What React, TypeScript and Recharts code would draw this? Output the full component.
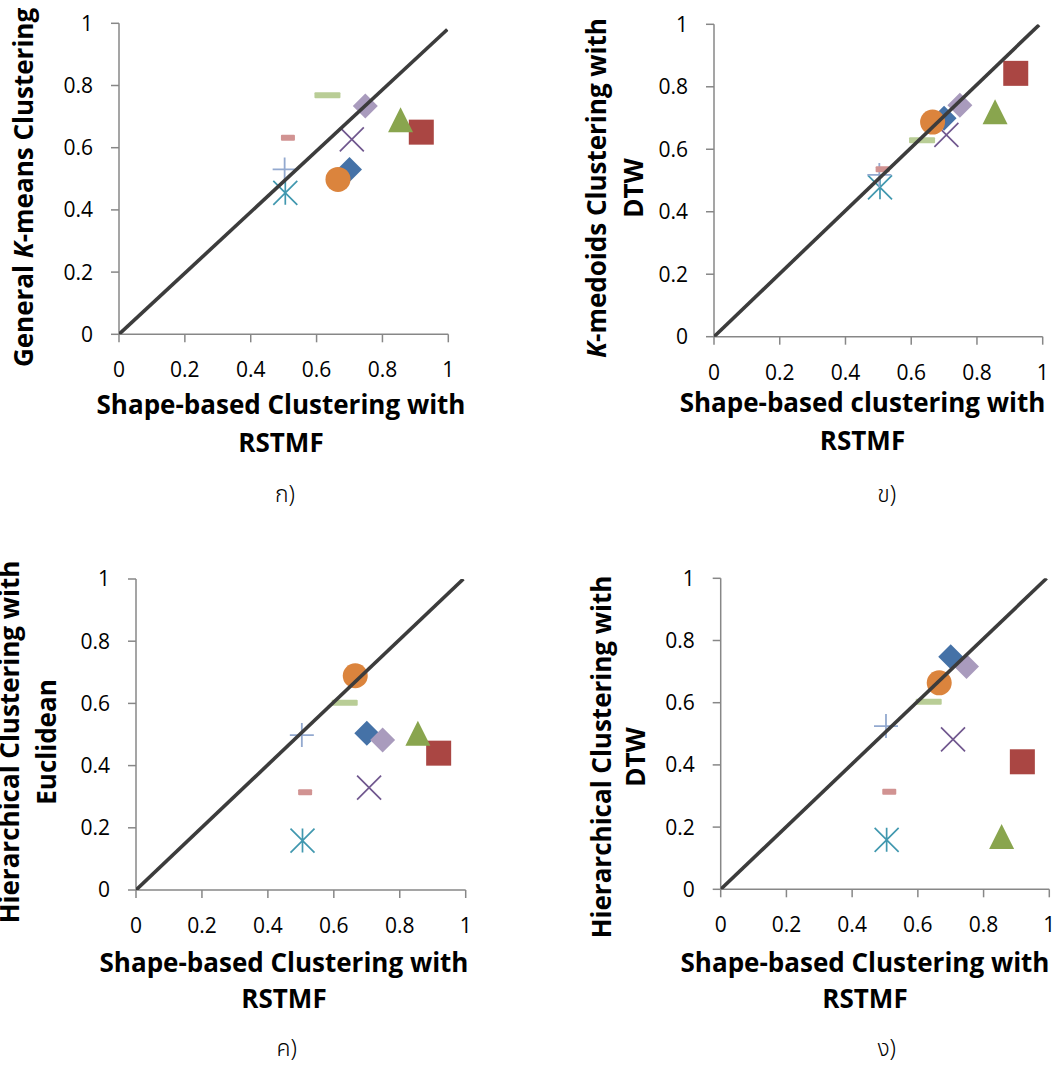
import React from "react"
import { ScatterChart, Scatter, XAxis, YAxis, Label } from "recharts"

// x values: Shape-based Clustering with RSTMF (shared by all four panels)
const shapeRstmf = [0.7, 0.918, 0.855, 0.707, 0.505, 0.665, 0.503, 0.513, 0.633, 0.748]

// y values, one list per compared method
const kMeans = [0.53, 0.65, 0.69, 0.627, 0.455, 0.498, 0.53, 0.632, 0.769, 0.734]
const kMedoidsDtw = [0.699, 0.843, 0.72, 0.646, 0.478, 0.687, 0.518, 0.536, 0.629, 0.741]
const hierEuclidean = [0.504, 0.44, 0.504, 0.329, 0.159, 0.689, 0.498, 0.314, 0.602, 0.482]
const hierDtw = [0.748, 0.41, 0.17, 0.482, 0.159, 0.664, 0.525, 0.314, 0.603, 0.716]

// far end of the diagonal reference line in each panel (starts at 0,0)
const diagEndX = [0.997, 0.989, 0.993, 0.992]
const diagEndY = [0.98, 0.998, 1, 1]

const axisTicks = [0, 0.2, 0.4, 0.6, 0.8, 1]

// one marker / colour per series (Excel 2007 look)
const MARKERS = ["diamond", "square", "triangle", "x", "star", "circle", "plus", "dash", "longDash", "diamond"]
const COLORS = ["#4572A7", "#AA4643", "#89A54E", "#71588F", "#4198AF", "#DB843D", "#93A9CF", "#D19392", "#B9CD96", "#A99BBD"]

const FONT = "'Open Sans', sans-serif"
const THAI_FONT = "'Noto Sans Thai', 'Noto Sans', 'DejaVu Sans', sans-serif"

// page coordinates of every panel (box = chart svg, plot = axis rectangle)
const PANELS = [
  {
    ys: kMeans,
    yTitle: ["General *K*-means Clustering"],
    xTitle: ["Shape-based Clustering with", "RSTMF"],
    caption: "ก)",
    box: { left: 0, top: 0, width: 531, height: 530 },
    plot: { l: 119, r: 448.3, t: 23.3, b: 334.3 },
    xTitlePos: { cx: 281, base: [414, 451.7] },
    captionPos: { cx: 285, base: 502 },
    yTitlePos: { cy: 187.5, base: [33] },
  },
  {
    ys: kMedoidsDtw,
    yTitle: ["*K*-medoids Clustering with", "DTW"],
    xTitle: ["Shape-based clustering with", "RSTMF"],
    caption: "ข)",
    box: { left: 531, top: 0, width: 531, height: 530 },
    plot: { l: 714, r: 1042.7, t: 24.3, b: 336.7 },
    xTitlePos: { cx: 862.5, base: [411.7, 450] },
    captionPos: { cx: 886.7, base: 502 },
    yTitlePos: { cy: 188, base: [606, 643] },
  },
  {
    ys: hierEuclidean,
    yTitle: ["Hierarchical Clustering with", "Euclidean"],
    xTitle: ["Shape-based Clustering with", "RSTMF"],
    caption: "ค)",
    box: { left: 0, top: 530, width: 531, height: 536 },
    plot: { l: 136, r: 465.7, t: 579, b: 890 },
    xTitlePos: { cx: 284, base: [971.7, 1008.3] },
    captionPos: { cx: 286.7, base: 1056 },
    yTitlePos: { cy: 742, base: [19, 56] },
  },
  {
    ys: hierDtw,
    yTitle: ["Hierarchical Clustering with", "DTW"],
    xTitle: ["Shape-based Clustering with", "RSTMF"],
    caption: "ง)",
    box: { left: 531, top: 530, width: 531, height: 536 },
    plot: { l: 720.7, r: 1049.3, t: 578.3, b: 889.3 },
    xTitlePos: { cx: 865, base: [971.7, 1008] },
    captionPos: { cx: 886.7, base: 1056 },
    yTitlePos: { cy: 757, base: [611, 645] },
  },
]

const Y_AXIS_W = 60
const X_AXIS_H = 30

function Marker({ cx, cy, kind, color }: { cx: number; cy: number; kind: string; color: string }) {
  const h = 12.5
  switch (kind) {
    case "diamond":
      return <polygon points={`${cx},${cy - h} ${cx + h},${cy} ${cx},${cy + h} ${cx - h},${cy}`} fill={color} />
    case "square":
      return <rect x={cx - h} y={cy - h} width={2 * h} height={2 * h} fill={color} />
    case "triangle":
      return <polygon points={`${cx},${cy - h} ${cx + h},${cy + h} ${cx - h},${cy + h}`} fill={color} />
    case "circle":
      return <circle cx={cx} cy={cy} r={h} fill={color} />
    case "x":
      return (
        <path d={`M${cx - 12},${cy - 12}L${cx + 12},${cy + 12}M${cx + 12},${cy - 12}L${cx - 12},${cy + 12}`} stroke={color} strokeWidth={1.7} fill="none" />
      )
    case "star":
      return (
        <path
          d={`M${cx - 12},${cy - 12}L${cx + 12},${cy + 12}M${cx + 12},${cy - 12}L${cx - 12},${cy + 12}M${cx},${cy - 12}L${cx},${cy + 12}`}
          stroke={color}
          strokeWidth={1.7}
          fill="none"
        />
      )
    case "plus":
      return <path d={`M${cx - 12},${cy}L${cx + 12},${cy}M${cx},${cy - 12}L${cx},${cy + 12}`} stroke={color} strokeWidth={1.8} fill="none" />
    case "dash":
      return <rect x={cx - 7} y={cy - 3} width={14} height={6} rx={1} fill={color} />
    case "longDash":
      return <rect x={cx - 13} y={cy - 3} width={26} height={6} rx={1} fill={color} />
    default:
      return <g />
  }
}

// "*K*-means" -> K in italics
function richText(line: string) {
  return line.split("*").map((part, i) => (
    <tspan key={i} fontStyle={i % 2 === 1 ? "italic" : "normal"}>
      {part}
    </tspan>
  ))
}

function Panel({ panel, index }: { panel: (typeof PANELS)[number]; index: number }) {
  const { box, plot } = panel
  const margin = {
    left: plot.l - box.left - Y_AXIS_W,
    top: plot.t - box.top,
    right: box.left + box.width - plot.r,
    bottom: box.top + box.height - plot.b - X_AXIS_H,
  }
  const points = MARKERS.map((_, i) => [{ x: shapeRstmf[i], y: panel.ys[i] }])
  const diag = [
    { x: 0, y: 0 },
    { x: diagEndX[index], y: diagEndY[index] },
  ]

  const xTitle = () => (
    <g>
      {panel.xTitle.map((line, i) => (
        <text
          key={i}
          x={panel.xTitlePos.cx - box.left}
          y={panel.xTitlePos.base[i] - box.top}
          textAnchor="middle"
          fontFamily={FONT}
          fontWeight="bold"
          fontSize={26}
          fill="#000"
        >
          {line}
        </text>
      ))}
      <text
        x={panel.captionPos.cx - box.left}
        y={panel.captionPos.base - box.top}
        textAnchor="middle"
        fontFamily={THAI_FONT}
        fontWeight={300}
        fontSize={23}
        fill="#000"
      >
        {panel.caption}
      </text>
    </g>
  )

  const yTitle = () => (
    <g>
      {panel.yTitle.map((line, i) => {
        const x = panel.yTitlePos.base[i] - box.left
        const y = panel.yTitlePos.cy - box.top
        return (
          <text
            key={i}
            x={x}
            y={y}
            transform={`rotate(-90, ${x}, ${y})`}
            textAnchor="middle"
            fontFamily={FONT}
            fontWeight="bold"
            fontSize={26}
            fill="#000"
          >
            {richText(line)}
          </text>
        )
      })}
    </g>
  )

  const tickStyle = { fontFamily: FONT, fontSize: 21, fill: "#000" }

  return (
    <div style={{ position: "absolute", left: box.left, top: box.top }}>
      <ScatterChart width={box.width} height={box.height} margin={margin}>
        <XAxis
          type="number"
          dataKey="x"
          domain={[0, 1]}
          ticks={axisTicks}
          interval={0}
          allowDataOverflow
          height={X_AXIS_H}
          axisLine={{ stroke: "#878787", strokeWidth: 1.5 }}
          tickLine={{ stroke: "#878787", strokeWidth: 1.5 }}
          tickSize={8}
          tickMargin={20}
          tick={tickStyle}
        >
          <Label content={xTitle} />
        </XAxis>
        <YAxis
          type="number"
          dataKey="y"
          domain={[0, 1]}
          ticks={axisTicks}
          interval={0}
          allowDataOverflow
          width={Y_AXIS_W}
          axisLine={{ stroke: "#878787", strokeWidth: 1.5 }}
          tickLine={{ stroke: "#878787", strokeWidth: 1.5 }}
          tickSize={8}
          tickMargin={18}
          tick={tickStyle}
        >
          <Label content={yTitle} />
        </YAxis>
        {points.map((data, i) => (
          <Scatter
            key={i}
            name={`Series ${i + 1}`}
            data={data}
            isAnimationActive={false}
            shape={(p: any) => <Marker cx={p.cx} cy={p.cy} kind={MARKERS[i]} color={COLORS[i]} />}
          />
        ))}
        <Scatter
          name="y = x"
          data={diag}
          isAnimationActive={false}
          line={{ stroke: "#3c3c3c", strokeWidth: 3.6 }}
          shape={() => <g />}
        />
      </ScatterChart>
    </div>
  )
}

export default function App() {
  return (
    <div style={{ position: "absolute", left: 0, top: 0, width: 1062, height: 1066, background: "#fff", overflow: "hidden" }}>
      {PANELS.map((p, i) => (
        <Panel key={i} panel={p} index={i} />
      ))}
    </div>
  )
}
